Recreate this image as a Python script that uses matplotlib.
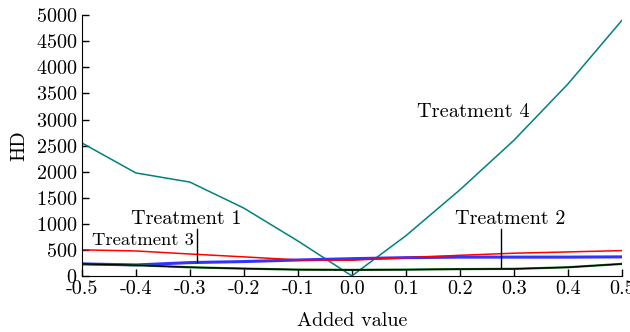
import numpy as np
import matplotlib.pyplot as plt

plt.rcParams['font.family'] = ['cmr10', 'DejaVu Serif']
plt.rcParams['mathtext.fontset'] = 'cm'
plt.rcParams['axes.unicode_minus'] = False
plt.rcParams['axes.formatter.use_mathtext'] = True

x = [-0.5, -0.4, -0.3, -0.2, -0.1, 0.0, 0.1, 0.2, 0.3, 0.4, 0.5]
t1 = [500, 478, 420, 365, 307, 300, 350, 395, 435, 460, 485]
t2 = [230, 210, 255, 275, 305, 330, 350, 360, 360, 360, 365]
t3 = [230, 205, 165, 140, 120, 115, 120, 130, 135, 165, 230]
t4 = [2550, 1975, 1800, 1300, 670, 0, 770, 1650, 2600, 3680, 4900]
xtick_labels = ['-0.5', '-0.4', '-0.3', '-0.2', '-0.1', '0.0',
                '0.1', '0.2', '0.3', '0.4', '0.5']

fig = plt.figure(figsize=(6.3, 3.32), dpi=100)
ax = fig.add_axes([0.130, 0.169, 0.857, 0.785])

ax.plot(x, t4, color='#008080', lw=1.1)
ax.plot(x, t2, color='#3333ff', lw=2.2)
ax.plot(x, t1, color='red', lw=1.1)
ax.plot(x, t3, color='#1a6b1a', lw=1.6)
ax.plot(x, t3, color='black', lw=0.9)

# callout labels with leader lines
ax.text(-0.3065, 1093, 'Treatment 1', fontsize=14.5, ha='center', va='center')
ax.plot([-0.286, -0.286], [275, 895], color='black', lw=1)
ax.text(-0.482, 690, 'Treatment 3', fontsize=13.4, ha='left', va='center')
ax.text(0.293, 1100, 'Treatment 2', fontsize=14.5, ha='center', va='center')
ax.plot([0.277, 0.277], [180, 895], color='black', lw=1)
ax.text(0.12, 3150, 'Treatment 4', fontsize=14.7, ha='left', va='center')

ax.set_xlim(-0.5, 0.5)
ax.set_ylim(0, 5000)
ax.set_xticks(x)
ax.set_xticklabels(xtick_labels)
ax.set_yticks(np.arange(0, 5001, 500))
ax.tick_params(direction='in', labelsize=14.5, length=5, width=1, pad=3)
ax.spines['top'].set_visible(False)
ax.spines['right'].set_visible(False)
ax.set_xlabel('Added value', fontsize=14.5, labelpad=10)
ax.set_ylabel('HD', fontsize=14.5, labelpad=6)

fig.savefig('out.png', dpi=100)
